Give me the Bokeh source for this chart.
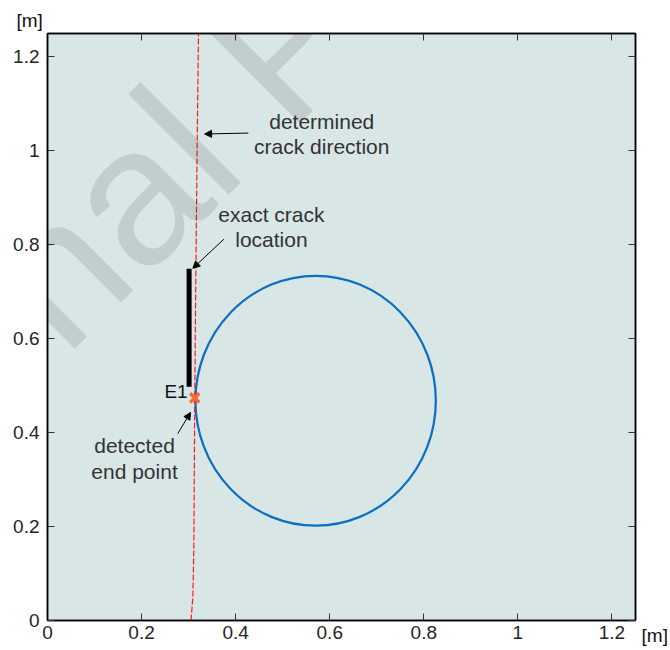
from bokeh.plotting import figure
from bokeh.models import (Range1d, FixedTicker, NumeralTickFormatter, LinearAxis,
                          Label, Arrow, NormalHead)
from bokeh.embed import file_html
from bokeh.resources import INLINE
import math

# ---------------- data ----------------
tick_values = [0, 0.2, 0.4, 0.6, 0.8, 1.0, 1.2]
axis_unit = "[m]"

# determined crack direction (red dashed line)
dir_x = [0.305, 0.309, 0.311, 0.312, 0.313, 0.315, 0.318, 0.321]
dir_y = [0.0, 0.05, 0.15, 0.30, 0.47, 0.70, 1.00, 1.25]

# exact crack location (black bar)
crack_x = [0.301, 0.301]
crack_y = [0.498, 0.749]

# circle (inclusion)
circ_cx = [0.570]
circ_cy = [0.468]
circ_w = [0.511]
circ_h = [0.532]

# detected end point E1
end_x = [0.313]
end_y = [0.474]

# annotations: text, x, y (data units, block centre)
ann_dir = ("determined\ncrack direction", 0.583, 1.036)
ann_crack = ("exact crack\nlocation", 0.476, 0.838)
ann_end = ("detected\nend point", 0.185, 0.345)
ann_e1 = ("E1", 0.298, 0.488)

# arrows: (x_start, y_start, x_end, y_end)
arrow_dir = (0.427, 1.038, 0.334, 1.036)
arrow_crack = (0.375, 0.812, 0.309, 0.750)
arrow_end = (0.277, 0.398, 0.304, 0.443)

watermark = "Journal Pre-proof"

# ---------------- figure ----------------
p = figure(frame_width=588, frame_height=587,
           x_range=Range1d(0, 1.25), y_range=Range1d(0, 1.25),
           output_backend="svg", toolbar_location=None, tools="",
           min_border_left=47, min_border_right=35,
           min_border_top=33, min_border_bottom=30,
           background_fill_color="#d9e6e6", border_fill_color="white")
p.grid.visible = False
p.outline_line_color = "black"
p.outline_line_width = 1.5

FONT = "Liberation Sans"

for ax in (p.xaxis[0], p.yaxis[0]):
    ax.ticker = FixedTicker(ticks=tick_values)
    ax.formatter = NumeralTickFormatter(format="0.[0]")
    ax.major_tick_in = 7
    ax.major_tick_out = 0
    ax.minor_tick_in = 0
    ax.minor_tick_out = 0
    ax.major_tick_line_color = "#333333"
    ax.axis_line_color = "black"
    ax.axis_line_width = 1.5
    ax.major_label_text_font = FONT
    ax.major_label_text_font_size = "19px"
    ax.major_label_text_color = "#262626"
p.yaxis[0].major_label_standoff = 8
p.xaxis[0].major_label_standoff = 5

for loc in ("above", "right"):
    ax = LinearAxis(ticker=FixedTicker(ticks=tick_values),
                    major_tick_in=7, major_tick_out=0,
                    minor_tick_in=0, minor_tick_out=0,
                    major_tick_line_color="#333333",
                    axis_line_color="black", axis_line_width=1.5,
                    major_label_text_font_size="0px",
                    major_label_standoff=0)
    p.add_layout(ax, loc)

# circle
p.ellipse(x=circ_cx, y=circ_cy, width=circ_w, height=circ_h,
          fill_color=None, line_color="#0a6fc2", line_width=2.2)

# crack bar
p.line(crack_x, crack_y, line_color="black", line_width=5)

# determined direction
p.line(dir_x, dir_y, line_color="#ff1a1a", line_width=1.2, line_dash="6 2")

# end point
p.scatter(end_x, end_y, marker="x", size=13, line_width=3.5, line_color="#ff6633")

# annotation texts
def add_text(t, x, y, size="21px", color="#333333", align="center", baseline="middle"):
    p.add_layout(Label(x=x, y=y, text=t, text_font=FONT, text_font_size=size,
                       text_color=color, text_align=align, text_baseline=baseline,
                       text_line_height=1.12))

add_text(*ann_dir)
add_text(*ann_crack)
add_text(*ann_end)
add_text(ann_e1[0], ann_e1[1], ann_e1[2], size="19px", color="#111111",
         align="right", baseline="middle")

# arrows
for (xs, ys, xe, ye) in (arrow_dir, arrow_crack, arrow_end):
    p.add_layout(Arrow(x_start=xs, y_start=ys, x_end=xe, y_end=ye,
                       line_color="black", line_width=1,
                       end=NormalHead(size=7, fill_color="black", line_color="black")))

# unit labels (placed in side panels so they are not clipped to the frame)
p.add_layout(Label(x=-0.038, y=1.277, text=axis_unit, text_font=FONT,
                   text_font_size="19px", text_color="#111111",
                   text_align="center", text_baseline="middle"), "above")
p.add_layout(Label(x=1.291, y=-0.032, text=axis_unit, text_font=FONT,
                   text_font_size="19px", text_color="#111111",
                   text_align="center", text_baseline="middle"), "right")

# watermark
p.add_layout(Label(x=-0.637, y=0.086, text=watermark, text_font=FONT,
                   text_font_size="196px", text_color="black", text_alpha=0.1,
                   text_align="left", text_baseline="alphabetic",
                   angle=math.pi / 4, level="overlay"))

open("out.html", "w").write(file_html(p, INLINE))
